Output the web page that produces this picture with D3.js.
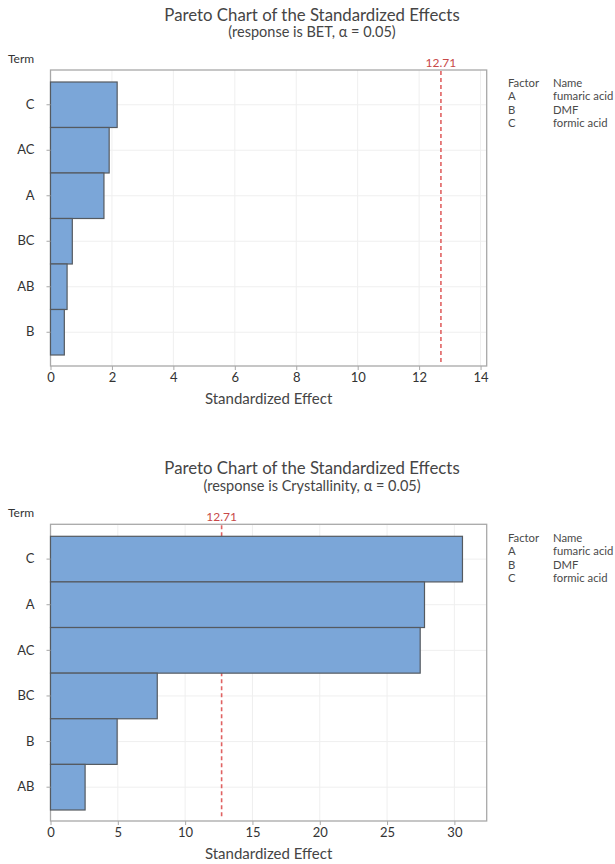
<!DOCTYPE html>
<html>
<head>
<meta charset="utf-8">
<script src="https://cdn.jsdelivr.net/npm/d3@7"></script>
<style>
  body { margin: 0; background: #fff; }
  svg { display: block; font-family: Lato, "Noto Sans", sans-serif; }
</style>
</head>
<body>
<svg id="chart" width="615" height="864"></svg>
<script>
// ---- data ----
const betTerms = ["C", "AC", "A", "BC", "AB", "B"];
const betEffects = [2.17, 1.91, 1.74, 0.71, 0.54, 0.45];
const betTicks = [0, 2, 4, 6, 8, 10, 12, 14];
const betMax = 14.2;

const cryTerms = ["C", "A", "AC", "BC", "B", "AB"];
const cryEffects = [30.6, 27.78, 27.46, 7.93, 4.95, 2.57];
const cryTicks = [0, 5, 10, 15, 20, 25, 30];
const cryMax = 32.4;

const critical = 12.71;
const titleText = "Pareto Chart of the Standardized Effects";
const betSubtitle = "(response is BET, \u03b1 = 0.05)";
const crySubtitle = "(response is Crystallinity, \u03b1 = 0.05)";
const factorCodes = ["A", "B", "C"];
const factorNames = ["fumaric acid", "DMF", "formic acid"];

// ---- drawing ----
const svg = d3.select("#chart");
const FONT = "Lato, \"Noto Sans\", sans-serif";

function pareto(g, cfg) {
  const left = 50.5, right = 486.7;
  const top = cfg.top, bottom = cfg.bottom;
  const cx = (left + right) / 2;

  // titles
  g.append("text").attr("x", 312).attr("y", cfg.titleY)
    .attr("text-anchor", "middle").attr("font-size", 16.8).attr("fill", "#454545")
    .text(titleText);
  g.append("text").attr("x", 312).attr("y", cfg.titleY + 16.5)
    .attr("text-anchor", "middle").attr("font-size", 14.5).attr("fill", "#454545")
    .text(cfg.subtitle);

  const x = d3.scaleLinear().domain([0, cfg.max]).range([left, right]);
  const y = d3.scaleBand().domain(cfg.terms).range([top + 12, bottom - 11]).paddingInner(0).paddingOuter(0);

  // gridlines
  g.append("g").selectAll("line.v").data(cfg.ticks.slice(1)).join("line")
    .attr("x1", d => x(d)).attr("x2", d => x(d))
    .attr("y1", top).attr("y2", bottom)
    .attr("stroke", "#efefef").attr("stroke-width", 1);
  g.append("g").selectAll("line.h").data(cfg.terms).join("line")
    .attr("x1", left).attr("x2", right)
    .attr("y1", d => y(d) + y.bandwidth() / 2).attr("y2", d => y(d) + y.bandwidth() / 2)
    .attr("stroke", "#efefef").attr("stroke-width", 1);

  // frame
  g.append("rect").attr("x", left).attr("y", top)
    .attr("width", right - left).attr("height", bottom - top)
    .attr("fill", "none").attr("stroke", "#a8a8a8").attr("stroke-width", 1.3);

  // critical line
  g.append("line").attr("x1", x(critical)).attr("x2", x(critical))
    .attr("y1", top + 1).attr("y2", bottom - 3)
    .attr("stroke", "#e06262").attr("stroke-width", 1.6).attr("stroke-dasharray", "4,3");
  g.append("text").attr("x", x(critical)).attr("y", top - 3)
    .attr("text-anchor", "middle").attr("font-size", 12).attr("fill", "#c84848")
    .text(critical.toFixed(2));

  // bars
  const data = cfg.terms.map((t, i) => ({ term: t, value: cfg.values[i] }));
  g.append("g").selectAll("rect").data(data).join("rect")
    .attr("x", x(0)).attr("y", d => y(d.term))
    .attr("width", d => x(d.value) - x(0)).attr("height", y.bandwidth())
    .attr("fill", "#7ba6d8").attr("stroke", "#555a60").attr("stroke-width", 1.2);

  // x axis
  const xa = g.append("g").attr("transform", `translate(0,${bottom})`)
    .call(d3.axisBottom(x).tickValues(cfg.ticks).tickSize(4).tickPadding(3).tickFormat(d3.format("d")));
  xa.select(".domain").remove();
  xa.selectAll("line").attr("stroke", "#a8a8a8");
  xa.selectAll("text").attr("font-size", 13).attr("fill", "#333").attr("font-family", FONT);

  // y axis
  const ya = g.append("g").attr("transform", `translate(${left},0)`)
    .call(d3.axisLeft(y).tickSize(4).tickPadding(12));
  ya.select(".domain").remove();
  ya.selectAll("line").attr("stroke", "#a8a8a8");
  ya.selectAll("text").attr("font-size", 13).attr("fill", "#333").attr("font-family", FONT);

  // axis titles
  g.append("text").attr("x", cx).attr("y", bottom + 38)
    .attr("text-anchor", "middle").attr("font-size", 15).attr("fill", "#454545")
    .text("Standardized Effect");
  g.append("text").attr("x", 8).attr("y", top - 7)
    .attr("font-size", 12).attr("fill", "#333").text("Term");

  // factor legend
  const lg = g.append("g");
  const fs = 11.3;
  lg.append("text").attr("x", 508).attr("y", cfg.legendY).attr("font-size", fs).attr("fill", "#4a4a4a").text("Factor");
  lg.append("text").attr("x", 553).attr("y", cfg.legendY).attr("font-size", fs).attr("fill", "#4a4a4a").text("Name");
  lg.selectAll("text.code").data(factorCodes).join("text").attr("class", "code")
    .attr("x", 508).attr("y", (d, i) => cfg.legendY + 13.5 * (i + 1))
    .attr("font-size", fs).attr("fill", "#4a4a4a").text(d => d);
  lg.selectAll("text.name").data(factorNames).join("text").attr("class", "name")
    .attr("x", 553).attr("y", (d, i) => cfg.legendY + 13.5 * (i + 1))
    .attr("font-size", fs).attr("fill", "#4a4a4a").text(d => d);
}

pareto(svg.append("g"), {
  top: 70, bottom: 366, titleY: 20.5, subtitle: betSubtitle,
  terms: betTerms, values: betEffects, ticks: betTicks, max: betMax, legendY: 86.5
});
pareto(svg.append("g"), {
  top: 524.3, bottom: 821, titleY: 474, subtitle: crySubtitle,
  terms: cryTerms, values: cryEffects, ticks: cryTicks, max: cryMax, legendY: 541.5
});
</script>
</body>
</html>
